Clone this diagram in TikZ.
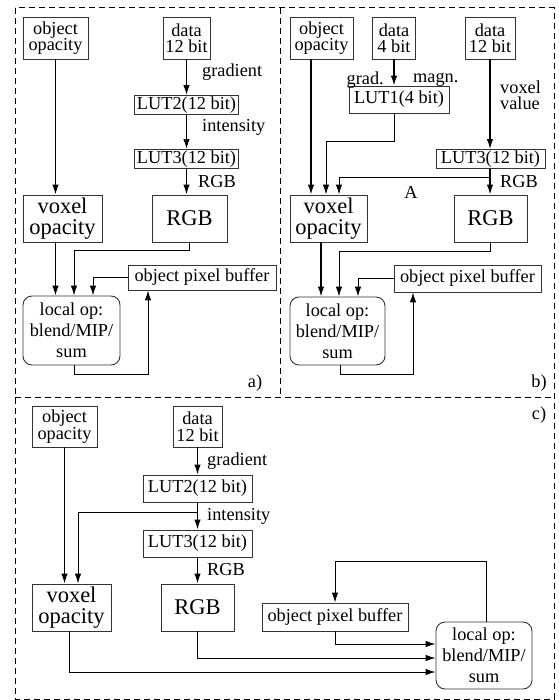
\documentclass[tikz,border=0pt]{standalone}
\usepackage{fontspec}
\setmainfont{Liberation Serif}
\usetikzlibrary{arrows.meta}

\begin{document}
\begin{tikzpicture}[x=1pt,y=-1pt,
	>={Latex[length=10pt,width=6.5pt]},
	box/.style={draw=black!80, line width=0.9pt, inner sep=1pt, align=center, font=\fontsize{18.3}{16.5}\selectfont},
	big/.style={box, font=\fontsize{22.5}{21}\selectfont},
	op/.style={box, rounded corners=9pt, font=\fontsize{18.3}{21}\selectfont},
	sz/.style 2 args={minimum width=#1, minimum height=#2},
	lbl/.style={inner sep=0pt, font=\fontsize{18.3}{16.5}\selectfont},
	main/.style={->, line width=1.3pt},
	wire/.style={->, line width=1pt},
	panel/.style={line width=1pt, dash pattern=on 6pt off 4pt}]
	\useasboundingbox (0,0) rectangle (558,700);

	% panels
	\draw[panel] (15,8) rectangle (554,699);
	\draw[panel] (280,8) -- (280,397);
	\draw[panel] (15,397) -- (554,397);

	% a)
	\node[box,sz={65}{42}] at (55.5,38)(aobj){object\\opacity};
	\node[box,sz={47}{42}] at (186.5,38)(adata){data\\12 bit};
	\node[box,sz={104}{19}] at (186.5,105)(alut2){LUT2(12 bit)};
	\node[box,sz={104}{19}] at (186.5,159)(alut3){LUT3(12 bit)};
	\node[big,sz={79}{47}] at (62.5,218.5)(avox){voxel\\opacity};
	\node[big,sz={75}{47}] at (189.5,218.5)(argb){RGB};
	\node[box,sz={148}{25}] at (202,277.5)(abuf){object pixel buffer};
	\node[op,sz={97}{69}] at (71.5,330.5)(aop){local op:\\blend/MIP/\\sum};
	\node[lbl,anchor=west] at (202,72)(agrad){gradient};
	\node[lbl,anchor=west] at (202,127)(aint){intensity};
	\node[lbl,anchor=west] at (198,182)(argbl){RGB};
	\node[lbl] at (255,383)(alab){a)};

	\draw[main] (aobj.south) -- (aobj.south |- avox.north);
	\draw[main] (adata.south) -- (alut2.north);
	\draw[main] (alut2.south) -- (alut3.north);
	\draw[main] (alut3.south) -- (alut3.south |- argb.north);
	\draw[main] (aobj.south |- avox.south) -- (aobj.south |- aop.north);
	\draw[wire] (argb.south) -- ++(0,8) -| ([xshift=2.5]aop.north);
	\draw[wire] (abuf.west) -| ([xshift=21.5]aop.north);
	\draw[wire] ([xshift=2.5]aop.south) -- ++(0,9) -| ([xshift=-54]abuf.south);

	% b)
	\node[box,sz={63}{42}] at (321.5,38)(bobj){object\\opacity};
	\node[box,sz={43}{42}] at (394,38)(bdata4){data\\4 bit};
	\node[box,sz={50}{42}] at (490,38)(bdata12){data\\12 bit};
	\node[box,sz={100}{27}] at (399,99.5)(blut1){LUT1(4 bit)};
	\node[box,sz={109}{19}] at (490.5,159)(blut3){LUT3(12 bit)};
	\node[big,sz={77}{47}] at (328.5,218.5)(bvox){voxel\\opacity};
	\node[big,sz={73}{47}] at (490.5,218.5)(brgb){RGB};
	\node[box,sz={147}{27}] at (467.5,278.5)(bbuf){object pixel buffer};
	\node[op,sz={95}{68}] at (337.5,331)(bop){local op:\\blend/MIP/\\sum};
	\node[lbl,anchor=east] at (384,80)(bgrad){grad.};
	\node[lbl,anchor=west] at (413,80)(bmagn){magn.};
	\node[lbl,anchor=west,align=left] at (500,95)(bval){voxel\\value};
	\node[lbl] at (411,192)(bA){A};
	\node[lbl,anchor=west] at (500,182)(brgbl){RGB};
	\node[lbl] at (539,383)(blab){b)};

	\draw[main] ([xshift=-10.5]bobj.south) -- ([xshift=-10.5]bobj.south |- bvox.north);
	\draw[main] (bdata4.south) -- (bdata4.south |- blut1.north);
	\draw[wire] (bdata4.south |- blut1.south) -- ++(0,28) -| ([xshift=-2.5]bvox.north);
	\draw[main] (bdata12.south) -- (bdata12.south |- blut3.north);
	\draw[main] (bdata12.south |- blut3.south) -- (bdata12.south |- brgb.north);
	\draw[wire] (bdata12.south |- blut3.south) ++(0,9) -| ([xshift=10.5]bvox.north);
	\draw[main] ([xshift=-7.5]bvox.south) -- ([xshift=-7.5]bvox.south |- bop.north);
	\draw[wire] (brgb.south) -- ++(0,9) -| ([xshift=1.5]bop.north);
	\draw[wire] (bbuf.west) -| ([xshift=20.5]bop.north);
	\draw[wire] ([xshift=2.5]bop.south) -- ++(0,9) -| ([xshift=-54.5]bbuf.south);

	% c)
	\node[box,sz={65}{41}] at (64.5,426.5)(cobj){object\\opacity};
	\node[box,sz={49}{41}] at (197.5,426.5)(cdata){data\\12 bit};
	\node[box,sz={109}{27}] at (197.5,488.5)(clut2){LUT2(12 bit)};
	\node[box,sz={109}{27}] at (197.5,543.5)(clut3){LUT3(12 bit)};
	\node[big,sz={79}{47}] at (71.5,607.5)(cvox){voxel\\opacity};
	\node[big,sz={73}{47}] at (197.5,607.5)(crgb){RGB};
	\node[box,sz={146}{28}] at (335,617)(cbuf){object pixel buffer};
	\node[op,sz={96}{67}] at (484,655.5)(cop){local op:\\blend/MIP/\\sum};
	\node[lbl,anchor=west] at (207,461)(cgrad){gradient};
	\node[lbl,anchor=west] at (207,516)(cint){intensity};
	\node[lbl,anchor=west] at (207,570)(crgbl){RGB};
	\node[lbl] at (539,415)(clab){c)};

	\draw[main] (cobj.south) -- (cobj.south |- cvox.north);
	\draw[main] (cdata.south) -- (clut2.north);
	\draw[main] (clut2.south) -- (clut3.north);
	\draw[main] (clut3.south) -- (crgb.north);
	\draw[wire] (clut2.south) ++(0,10) -| ([xshift=6.5]cvox.north);
	\draw[wire] ([xshift=-2.5]cvox.south) |- ([yshift=-16.5]cop.west);
	\draw[wire] (crgb.south) |- ([yshift=-2.5]cop.west);
	\draw[wire] (cbuf.south) |- ([yshift=11.5]cop.west);
	\draw[wire] ([xshift=2]cop.north) -- ++(0,-60) -| (cbuf.north);
\end{tikzpicture}
\end{document}
